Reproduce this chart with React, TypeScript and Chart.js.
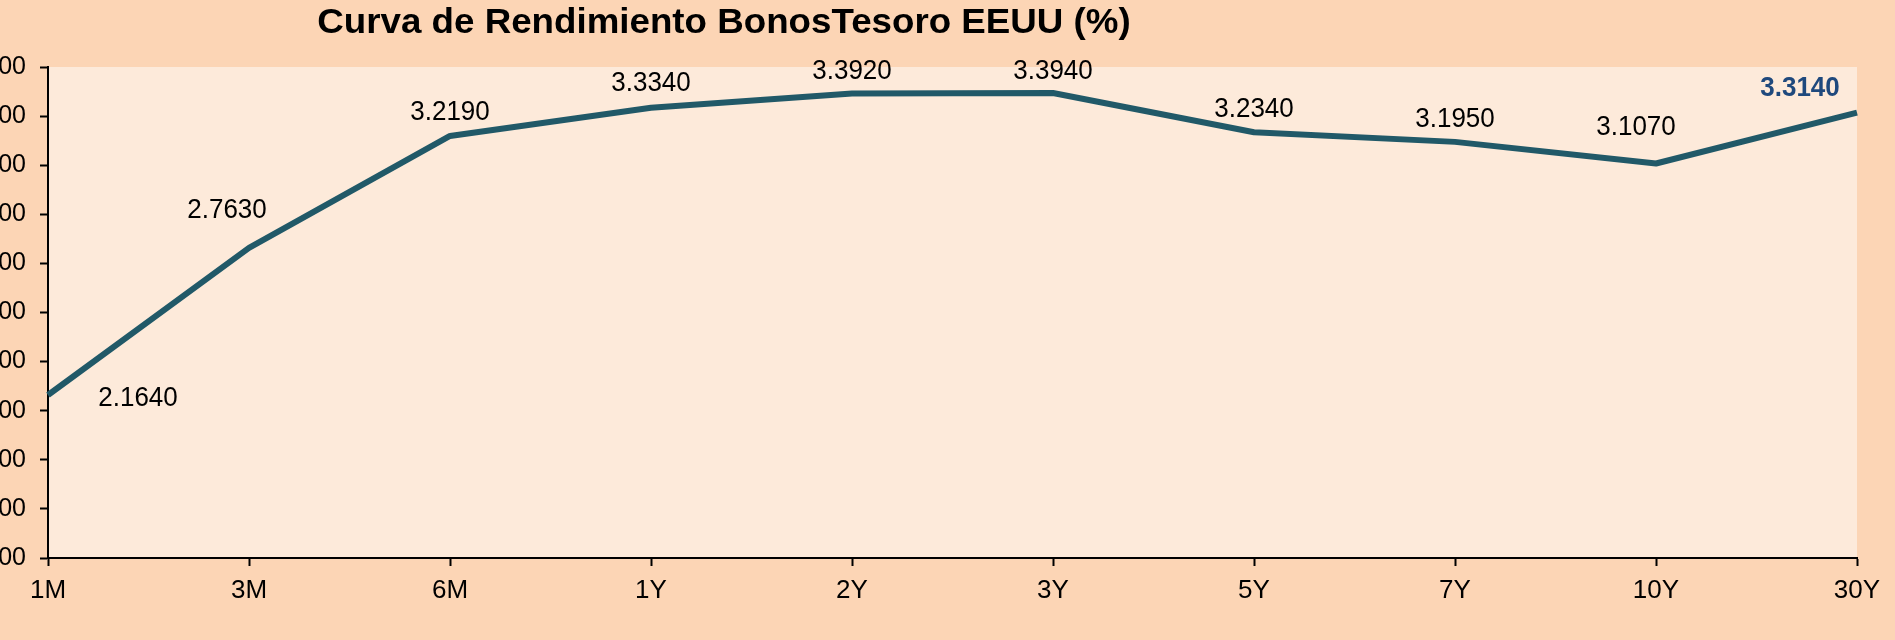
import React, { useEffect, useRef } from "react";
import { Chart, registerables } from "chart.js";

Chart.register(...registerables);

const categories = ["1M", "3M", "6M", "1Y", "2Y", "3Y", "5Y", "7Y", "10Y", "30Y"];
const yields = [2.164, 2.763, 3.219, 3.334, 3.392, 3.394, 3.234, 3.195, 3.107, 3.314];
const yMin = 1.5;
const yMax = 3.5;
const yStep = 0.2;
const titleText = "Curva de Rendimiento BonosTesoro EEUU (%)";

// label placement (style): offsets of label centre from the point, in px
const labelOffsets: [number, number][] = [
  [90, 3], [-22, -38], [0, -24], [0, -24], [0, -22], [0, -22], [0, -23], [0, -23], [-20, -36], [-57, -24],
];

const FONT = "'Liberation Sans', Arial, sans-serif";

const bgPlugin = {
  id: "bgPlugin",
  beforeDraw(chart: any) {
    const { ctx, chartArea, width, height } = chart;
    ctx.save();
    ctx.fillStyle = "#FCD5B5";
    ctx.fillRect(0, 0, width, height);
    ctx.fillStyle = "#FDEADA";
    ctx.fillRect(chartArea.left, chartArea.top, chartArea.right - chartArea.left, chartArea.bottom - chartArea.top);
    ctx.restore();
  },
};

const titlePlugin = {
  id: "titlePlugin",
  afterDraw(chart: any) {
    const { ctx } = chart;
    ctx.save();
    ctx.translate(724, 33);
    ctx.scale(1.08, 1.05);
    ctx.font = `bold 34px ${FONT}`;
    ctx.fillStyle = "#000000";
    ctx.textAlign = "center";
    ctx.textBaseline = "alphabetic";
    ctx.fillText(titleText, 0, 0);
    ctx.restore();
  },
};

const labelPlugin = {
  id: "labelPlugin",
  afterDatasetsDraw(chart: any) {
    const { ctx } = chart;
    const meta = chart.getDatasetMeta(0);
    const data = chart.data.datasets[0].data as number[];
    ctx.save();
    ctx.textAlign = "center";
    ctx.textBaseline = "middle";
    meta.data.forEach((pt: any, i: number) => {
      const last = i === data.length - 1;
      ctx.font = `${last ? "bold " : ""}26px ${FONT}`;
      ctx.fillStyle = last ? "#1F497D" : "#000000";
      const [dx, dy] = labelOffsets[i] || [0, -22];
      ctx.save();
      ctx.translate(pt.x + dx, pt.y + dy);
      ctx.scale(1, 1.08);
      ctx.fillText(data[i].toFixed(4), 0, 0);
      ctx.restore();
    });
    ctx.restore();
  },
};

export default function App() {
  const ref = useRef<HTMLCanvasElement>(null);
  useEffect(() => {
    if (!ref.current) return;
    const chart = new Chart(ref.current, {
      type: "line",
      data: {
        labels: categories,
        datasets: [
          {
            data: yields,
            borderColor: "#215968",
            borderWidth: 6,
            pointRadius: 0,
            tension: 0,
            fill: false,
            borderJoinStyle: "round",
          },
        ],
      },
      options: {
        animation: false,
        responsive: false,
        layout: { padding: { top: 67, left: 0, right: 38, bottom: 0 } },
        plugins: { legend: { display: false }, title: { display: false }, tooltip: { enabled: false } },
        scales: {
          x: {
            offset: false,
            grid: { drawOnChartArea: false, drawTicks: true, tickLength: 8, tickWidth: 2, tickColor: "#000000" },
            border: { display: true, color: "#000000", width: 2 },
            ticks: { color: "#000000", font: { family: FONT, size: 26 }, padding: 9, maxRotation: 0, autoSkip: false },
            afterFit: (s: any) => { s.height = 82; },
          },
          y: {
            min: yMin,
            max: yMax,
            grid: { drawOnChartArea: false, drawTicks: true, tickLength: 8, tickWidth: 2, tickColor: "#000000" },
            border: { display: true, color: "#000000", width: 2 },
            ticks: {
              stepSize: yStep,
              color: "#000000",
              font: { family: FONT, size: 25 },
              padding: 14,
              callback: (v: any) => Number(v).toFixed(4),
            },
            afterFit: (s: any) => { s.width = 48; },
          },
        },
      },
      plugins: [bgPlugin, labelPlugin, titlePlugin],
    } as any);
    return () => chart.destroy();
  }, []);
  return (
    <div style={{ position: "fixed", left: 0, top: 0, width: 1895, height: 640, background: "#FCD5B5", overflow: "hidden" }}>
      <canvas ref={ref} width={1895} height={640} style={{ display: "block" }} />
    </div>
  );
}
